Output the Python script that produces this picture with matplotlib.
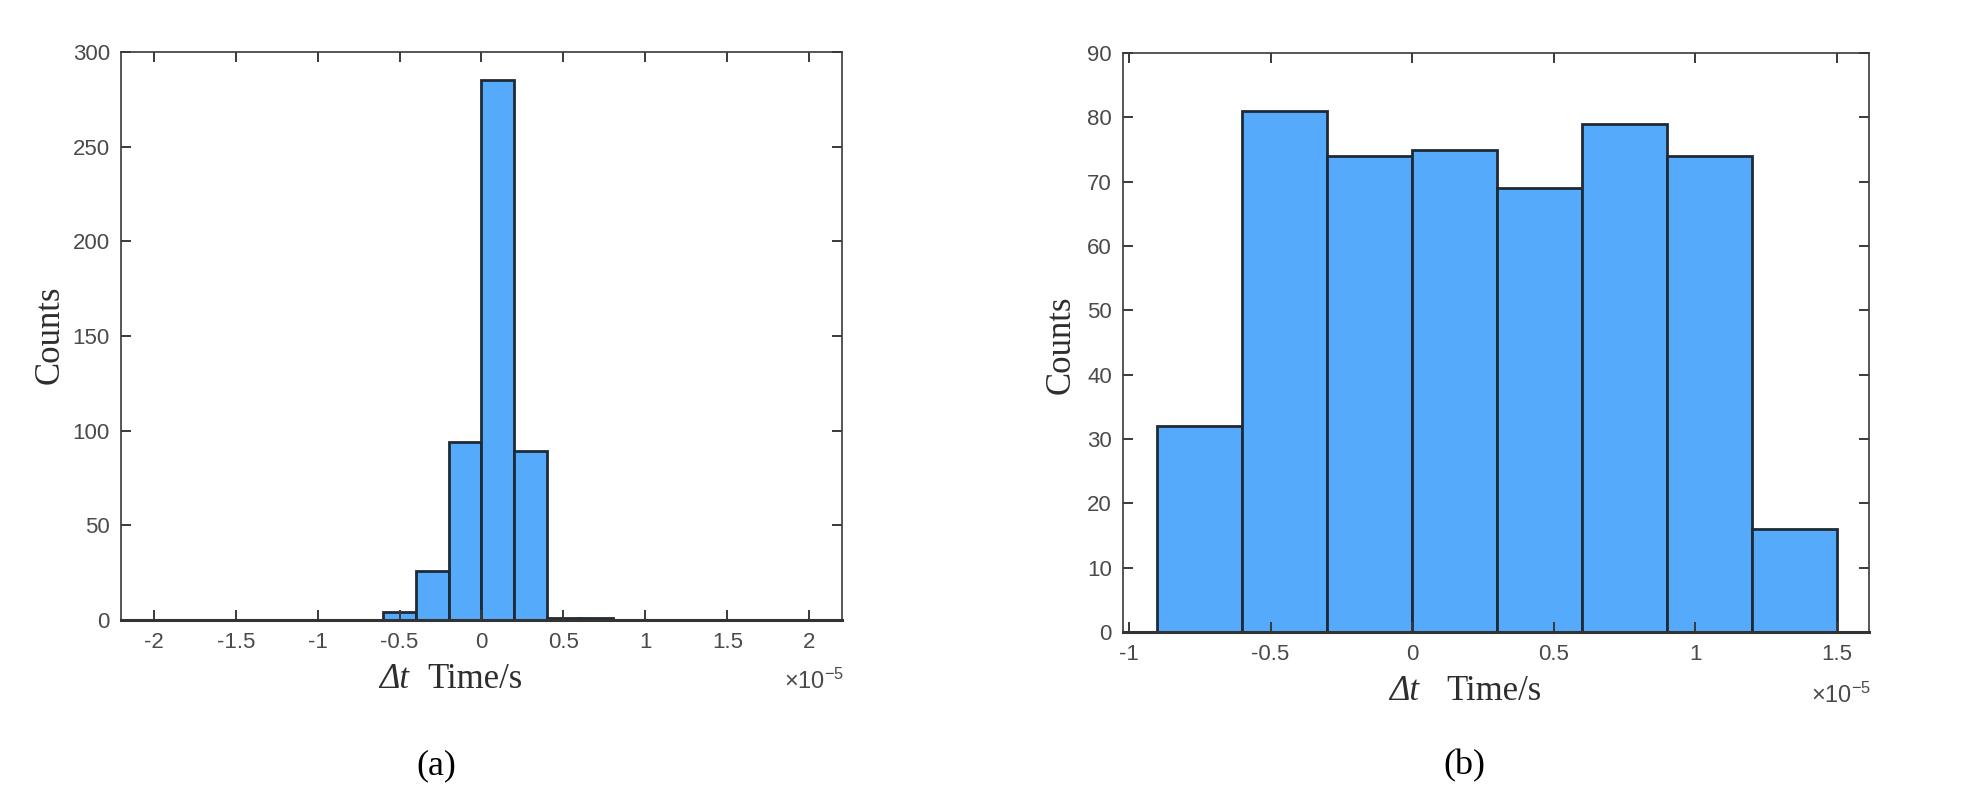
import numpy as np
import matplotlib
matplotlib.use("Agg")
import matplotlib.pyplot as plt
from matplotlib.ticker import FixedLocator, FuncFormatter

plt.rcParams['mathtext.fontset'] = 'custom'
plt.rcParams['mathtext.rm'] = 'Liberation Sans'
plt.rcParams['mathtext.it'] = 'Liberation Sans:italic'

# ---- data (time in units of 1e-5 s) ----
edges_a = [-0.6, -0.4, -0.2, 0.0, 0.2, 0.4, 0.6, 0.8]
counts_a = [4, 26, 94, 285, 89, 1, 1]
xticks_a = [-2, -1.5, -1, -0.5, 0, 0.5, 1, 1.5, 2]
yticks_a = [0, 50, 100, 150, 200, 250, 300]

edges_b = [-0.9, -0.6, -0.3, 0.0, 0.3, 0.6, 0.9, 1.2, 1.5]
counts_b = [32, 81, 74, 75, 69, 79, 74, 16]
xticks_b = [-1, -0.5, 0, 0.5, 1, 1.5]
yticks_b = [0, 10, 20, 30, 40, 50, 60, 70, 80, 90]

W, H = 1963, 785
fig = plt.figure(figsize=(W / 100, H / 100), dpi=100)

FACE = '#56AAFB'
EDGE = '#1E2A36'
TICKC = '#4A4A4A'
SPINE = '#3A3A3A'

def fmt(v, pos):
    return '%g' % v

def px_axes(l, r, t, b):
    return [l / W, 1 - b / H, (r - l) / W, (b - t) / H]

def style(ax, xt, yt, xlim, ylim):
    ax.set_xlim(*xlim)
    ax.set_ylim(*ylim)
    ax.xaxis.set_major_locator(FixedLocator(xt))
    ax.yaxis.set_major_locator(FixedLocator(yt))
    ax.xaxis.set_major_formatter(FuncFormatter(fmt))
    ax.yaxis.set_major_formatter(FuncFormatter(fmt))
    ax.tick_params(direction='in', length=7, width=1.4, color=SPINE,
                   labelsize=16, labelcolor=TICKC, top=True, right=True)
    ax.tick_params(axis='x', pad=9)
    ax.tick_params(axis='y', pad=8)
    for lab in ax.get_xticklabels() + ax.get_yticklabels():
        lab.set_family('Liberation Sans')
    for s in ax.spines.values():
        s.set_color(SPINE)
        s.set_linewidth(1.2)
    ax.spines['bottom'].set_linewidth(2.2)
    ax.spines['bottom'].set_color('#333333')

# ---- panel (a) ----
ax1 = fig.add_axes(px_axes(121, 842, 52, 620))
ax1.hist(edges_a[:-1], bins=edges_a, weights=counts_a, color=FACE,
         edgecolor=EDGE, linewidth=2.0)
style(ax1, xticks_a, yticks_a, (-2.2, 2.2), (0, 300))

# ---- panel (b) ----
ax2 = fig.add_axes(px_axes(1123, 1869, 53, 632))
ax2.hist(edges_b[:-1], bins=edges_b, weights=counts_b, color=FACE,
         edgecolor=EDGE, linewidth=2.0)
style(ax2, xticks_b, yticks_b, (-1.021, 1.614), (0, 90))

def ftxt(x, y, s, **kw):
    fig.text(x / W, 1 - y / H, s, **kw)

serif = 'Liberation Serif'
LBLC = '#2E2E2E'
# x labels: italic "Δt" followed by "Time/s"
for xr, xl, y in [(409, 427, 680), (1419, 1446, 692)]:
    ftxt(xr, y, 'Δt', family=serif, style='italic', fontsize=25, color=LBLC, ha='right', va='center')
    ftxt(xl, y, 'Time/s', family=serif, fontsize=25, color=LBLC, ha='left', va='center')

ftxt(50, 335, 'Counts', family=serif, fontsize=25, color=LBLC, ha='center', va='center', rotation=90)
ftxt(1061, 345, 'Counts', family=serif, fontsize=25, color=LBLC, ha='center', va='center', rotation=90)

mult = r'$\times\mathrm{10}^{\mathrm{-5}}$'
ftxt(844, 681, mult, fontsize=17, color=TICKC, ha='right', va='center')
ftxt(1871, 695, mult, fontsize=17, color=TICKC, ha='right', va='center')

ftxt(436, 766, '(a)', family=serif, fontsize=26, color='black', ha='center', va='center')
ftxt(1464, 766, '(b)', family=serif, fontsize=26, color='black', ha='center', va='center')

fig.savefig('out.png', dpi=100, facecolor='white')
